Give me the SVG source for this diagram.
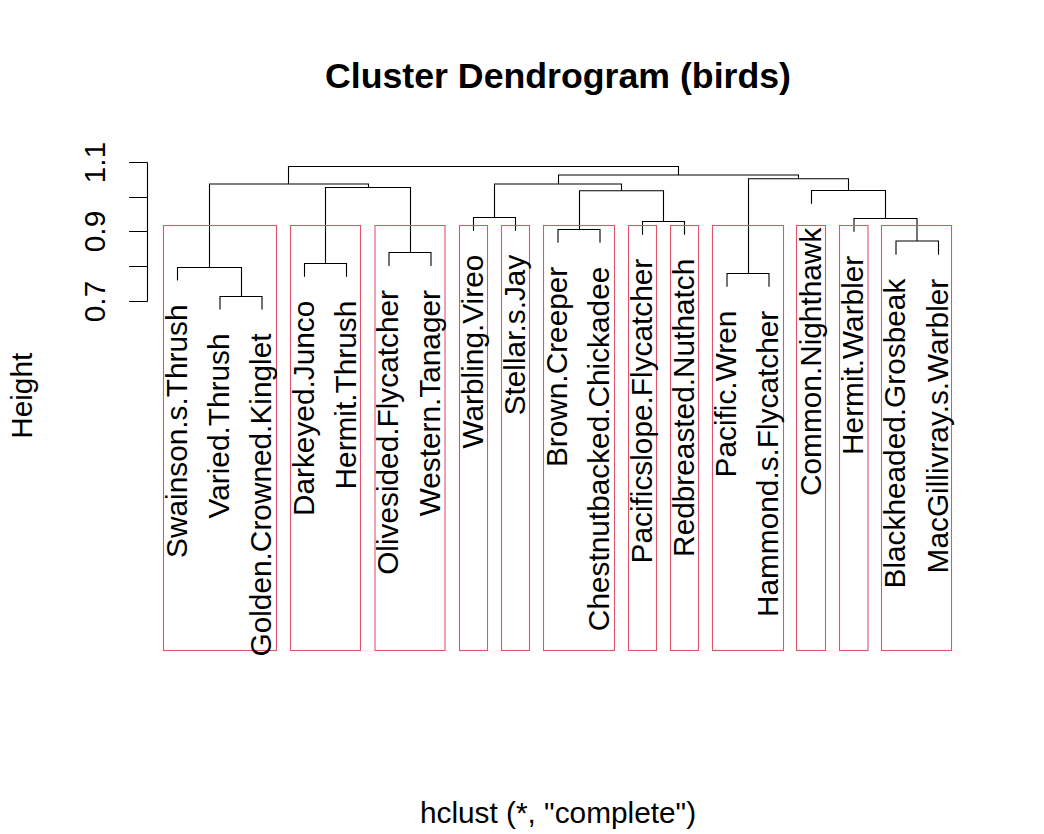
<svg xmlns="http://www.w3.org/2000/svg" width="1044" height="834" viewBox="0 0 1044 834">
<style>
text{font-family:"Liberation Sans",Arial,sans-serif;font-size:29.8px;fill:#000}
.title{font-weight:bold;font-size:35.7px}
.lab{text-anchor:end}
.ax{text-anchor:middle}
.seg{fill:none;stroke:#000;stroke-width:1.1}
.box{fill:none;stroke:#DF536B;stroke-width:1.1}
</style>
<rect width="1044" height="834" fill="#fff"/>
<text class="title" x="558" y="87.5" text-anchor="middle">Cluster Dendrogram (birds)</text>
<text x="558" y="823.3" text-anchor="middle">hclust (*, "complete")</text>
<text x="31.7" y="395.8" text-anchor="middle" transform="rotate(-90 31.7 395.8)">Height</text>
<g id="axis">
<path class="seg" d="M147.5 162.5V301.5M129 162.5H147.5M129 197.5H147.5M129 231.5H147.5M129 266.5H147.5M129 301.5H147.5"/>
<text class="ax" x="105" y="162.5" transform="rotate(-90 105 162.5)">1.1</text>
<text class="ax" x="105" y="231.5" transform="rotate(-90 105 231.5)">0.9</text>
<text class="ax" x="105" y="301.5" transform="rotate(-90 105 301.5)">0.7</text>
</g>
<g id="connectors">
<path class="seg" d="M288.5 184V166.5H678.5V175"/>
<path class="seg" d="M209.5 267.5V184H368.5V187.5"/>
<path class="seg" d="M325.5 263.5V187.5H410.5V252.5"/>
<path class="seg" d="M177.5 280.5V267.5H241.5V296.5"/>
<path class="seg" d="M220 309.5V296.5H262V309.5"/>
<path class="seg" d="M304.5 276.7V263.5H346.5V276.7"/>
<path class="seg" d="M389 266V252.5H431V266"/>
<path class="seg" d="M558.5 184V175H798.5V178.7"/>
<path class="seg" d="M494.5 217.5V184H621.5V190.7"/>
<path class="seg" d="M473.5 230.7V217.5H515.5V230.7"/>
<path class="seg" d="M579.5 229.5V190.7H663.5V221.5"/>
<path class="seg" d="M558 242.7V229.5H600V242.7"/>
<path class="seg" d="M642.5 234.7V221.5H684.5V234.7"/>
<path class="seg" d="M748.5 273.5V178.7H848.5V190.5"/>
<path class="seg" d="M727 286.7V273.5H769V286.7"/>
<path class="seg" d="M811.5 203.7V190.5H885.5V218.5"/>
<path class="seg" d="M854 231.7V218.5H917V241"/>
<path class="seg" d="M896 254.7V241H938.5V254.7"/>
</g>
<g id="clusters">
<rect class="box" x="163.5" y="225.5" width="113" height="425"/>
<rect class="box" x="290.5" y="225.5" width="70" height="425"/>
<rect class="box" x="375" y="225.5" width="70" height="425"/>
<rect class="box" x="459.5" y="225.5" width="28" height="425"/>
<rect class="box" x="501.5" y="225.5" width="28" height="425"/>
<rect class="box" x="543.5" y="225.5" width="71" height="425"/>
<rect class="box" x="628.5" y="225.5" width="28" height="425"/>
<rect class="box" x="670.5" y="225.5" width="28" height="425"/>
<rect class="box" x="712.5" y="225.5" width="71" height="425"/>
<rect class="box" x="796.5" y="225.5" width="29" height="425"/>
<rect class="box" x="839.5" y="225.5" width="28.5" height="425"/>
<rect class="box" x="881.5" y="225.5" width="70" height="425"/>
</g>
<g id="leaves">
<g id="n1"><text class="lab" x="186.9" y="304.5" transform="rotate(-90 186.9 304.5)">Swainson.s.Thrush</text></g>
<g id="n2"><text class="lab" x="229.4" y="333.5" transform="rotate(-90 229.4 333.5)">Varied.Thrush</text></g>
<g id="n3"><text class="lab" x="271.4" y="333.5" transform="rotate(-90 271.4 333.5)">Golden.Crowned.Kinglet</text></g>
<g id="n4"><text class="lab" x="313.9" y="300.7" transform="rotate(-90 313.9 300.7)">Darkeyed.Junco</text></g>
<g id="n5"><text class="lab" x="355.9" y="300.7" transform="rotate(-90 355.9 300.7)">Hermit.Thrush</text></g>
<g id="n6"><text class="lab" x="398.4" y="290" transform="rotate(-90 398.4 290)">Olivesided.Flycatcher</text></g>
<g id="n7"><text class="lab" x="440.4" y="290" transform="rotate(-90 440.4 290)">Western.Tanager</text></g>
<g id="n8"><text class="lab" x="482.9" y="254.7" transform="rotate(-90 482.9 254.7)">Warbling.Vireo</text></g>
<g id="n9"><text class="lab" x="524.9" y="254.7" transform="rotate(-90 524.9 254.7)">Stellar.s.Jay</text></g>
<g id="n10"><text class="lab" x="567.4" y="266.7" transform="rotate(-90 567.4 266.7)">Brown.Creeper</text></g>
<g id="n11"><text class="lab" x="609.4" y="266.7" transform="rotate(-90 609.4 266.7)">Chestnutbacked.Chickadee</text></g>
<g id="n12"><text class="lab" x="651.9" y="258.7" transform="rotate(-90 651.9 258.7)">Pacificslope.Flycatcher</text></g>
<g id="n13"><text class="lab" x="693.9" y="258.7" transform="rotate(-90 693.9 258.7)">Redbreasted.Nuthatch</text></g>
<g id="n14"><text class="lab" x="736.4" y="310.7" transform="rotate(-90 736.4 310.7)">Pacific.Wren</text></g>
<g id="n15"><text class="lab" x="778.4" y="310.7" transform="rotate(-90 778.4 310.7)">Hammond.s.Flycatcher</text></g>
<g id="n16"><text class="lab" x="820.9" y="227.7" transform="rotate(-90 820.9 227.7)">Common.Nighthawk</text></g>
<g id="n17"><text class="lab" x="863.4" y="255.7" transform="rotate(-90 863.4 255.7)">Hermit.Warbler</text></g>
<g id="n18"><text class="lab" x="905.4" y="278.7" transform="rotate(-90 905.4 278.7)">Blackheaded.Grosbeak</text></g>
<g id="n19"><text class="lab" x="947.9" y="278.7" transform="rotate(-90 947.9 278.7)">MacGillivray.s.Warbler</text></g>
</g>
</svg>
